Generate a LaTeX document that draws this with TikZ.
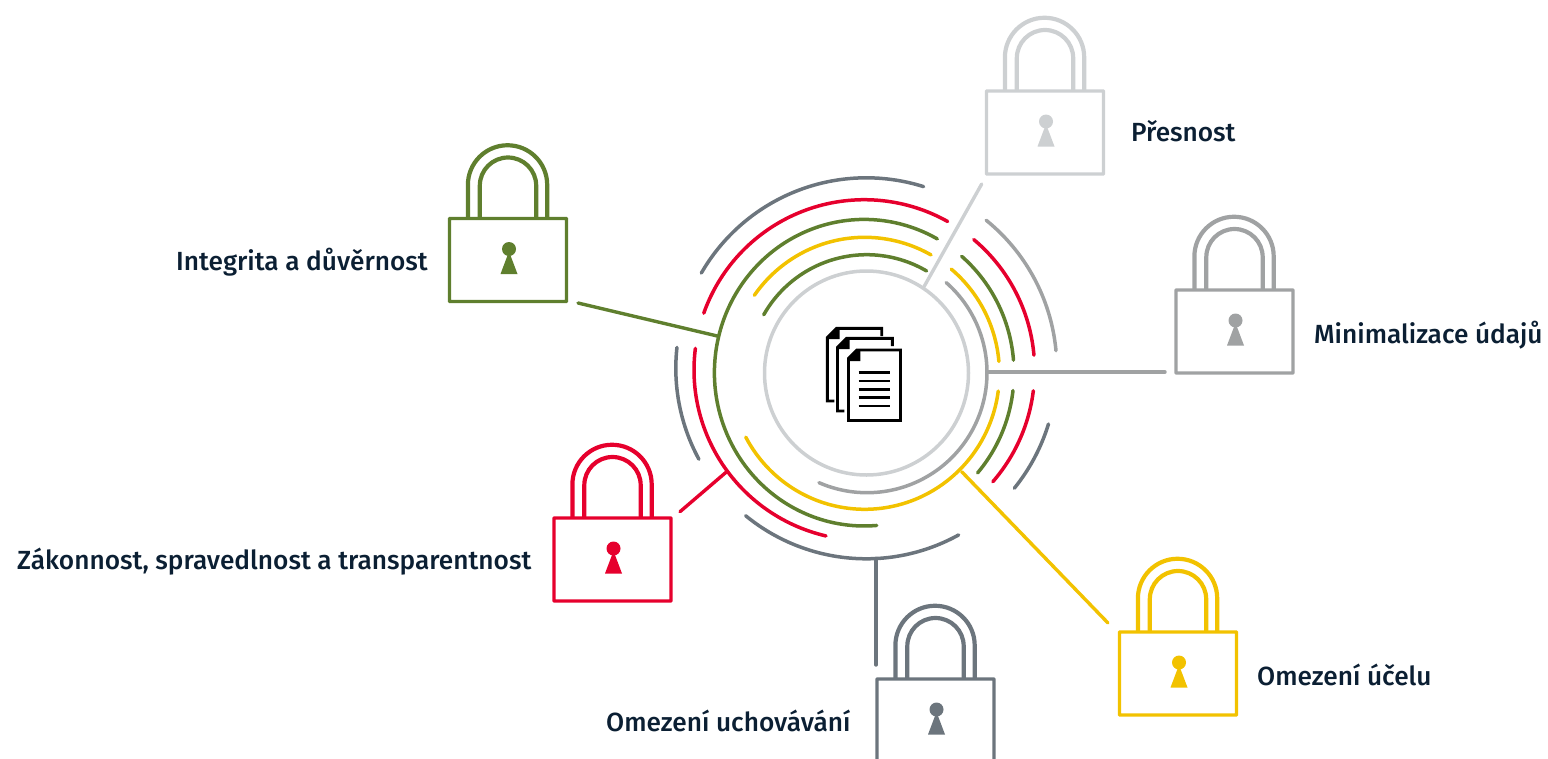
\documentclass[tikz,border=0pt]{standalone}
\usepackage{fontspec}
\setmainfont{Lato}
\newfontfamily\lblfont{Fira Sans Medium}
\definecolor{cgreen}{HTML}{5F7F2E}
\definecolor{cred}{HTML}{E6002D}
\definecolor{cyellow}{HTML}{F2C200}
\definecolor{cdark}{HTML}{6C757D}
\definecolor{cgray}{HTML}{A0A2A3}
\definecolor{clight}{HTML}{CDD0D2}
\definecolor{ctext}{HTML}{0B1F33}
\tikzset{
  ringline/.style={line width=3.5pt,line cap=round,line join=round},
  link/.style={line width=3.4pt,line cap=round},
  lockbody/.style={draw=#1,line width=3.4pt,rectangle,rounded corners=0.6pt,minimum width=117pt,minimum height=83pt,inner sep=0pt},
  lbl/.style={text=ctext,font=\lblfont\fontsize{26.25}{30}\selectfont,inner sep=0pt},
  sheet/.style={line width=2.9pt,line join=miter,black},
  txtline/.style={line width=2.7pt,black}
}
% color, cx, cy, rx, ry, start, end  (image px, angles counter-clockwise)
\newcommand{\ringarc}[7]{\draw[ringline,#1] plot[smooth,domain=#6:#7,samples=70] ({#2+#4*cos(\x)},{#3-#5*sin(\x)});}
% name, color, left, top of body
\newcommand{\padlock}[4]{%
  \node[lockbody=#2,anchor=north west,outer sep=0pt] (#1) at (#3,#4) {};
  \begin{scope}[shift={(#3,#4)}]
    \draw[line width=4.2pt,#2] (18.4,0) -- (18.4,-33.6) arc[start angle=180,end angle=0,radius=39.65pt] -- (97.7,0);
    \draw[line width=4.2pt,#2] (30.3,0) -- (30.3,-32.8) arc[start angle=180,end angle=0,radius=28.2pt] -- (86.7,0);
    \fill[#2] (59.5,30.5) circle (7pt);
    \fill[#2] (59.5,33) -- (68,55.5) -- (51,55.5) -- cycle;
  \end{scope}}
\begin{document}
\begin{tikzpicture}[x=1pt,y=-1pt]
\useasboundingbox (0,0) rectangle (1548,758);
\clip (0,0) rectangle (1548,758);
% inner disc
\node[circle,draw=clight,line width=3.5pt,minimum size=204pt,inner sep=0pt,outer sep=0pt] (hub) at (866.5,373) {};
% rings
\ringarc{cgray}{867}{372.7}{120}{120}{-113.6}{48.7}
\ringarc{cgreen}{866.7}{373}{118.3}{118.3}{59.6}{150.5}
\ringarc{cyellow}{864.7}{373.3}{134.7}{136}{60.5}{145}
\ringarc{cyellow}{864.7}{373.3}{134.7}{136}{5}{50}
\ringarc{cyellow}{864.7}{373.3}{134.7}{136}{-152}{-7.5}
\ringarc{cgreen}{864.2}{372.7}{149.8}{153.3}{60.8}{274.8}
\ringarc{cgreen}{864.2}{372.7}{149.8}{153.3}{4.7}{49.4}
\ringarc{cgreen}{864.2}{372.7}{149.8}{153.3}{-40.8}{-6.7}
\ringarc{cred}{864.3}{370}{170.3}{170.3}{60.7}{160.5}
\ringarc{cred}{864.3}{370}{170.3}{170.3}{5}{50}
\ringarc{cred}{864.3}{370}{170.3}{170.3}{-41}{-7}
\ringarc{cred}{864.3}{370}{170.3}{170.3}{-103}{-187.3}
\ringarc{cdark}{866.3}{368.3}{190.5}{190.5}{72.5}{150}
\ringarc{cdark}{866.3}{368.3}{190.5}{190.5}{173.7}{208.5}
\ringarc{cdark}{866.3}{368.3}{190.5}{190.5}{-39}{-17}
\ringarc{cdark}{866.3}{368.3}{190.5}{190.5}{-61}{-129.3}
\ringarc{cgray}{866.3}{368.3}{190.5}{190.5}{5.3}{51}
% document icon
\draw[sheet] (834.3,401) -| (827.3,337.7) -- (836.7,328.3) -- (881.7,328.3) -- (881.7,336);
\fill[black] (826,338) -- (836.5,327.5) -- (839.5,327.5) -- (839.5,339) -- (826,339) -- cycle;
\draw[sheet] (844.3,411) -| (837.5,347.3) -- (846.7,338.3) -- (892.3,338.3) -- (892.3,346);
\fill[black] (836.2,348) -- (846.5,337.5) -- (849.5,337.5) -- (849.5,349) -- (836.2,349) -- cycle;
\draw[sheet] (848.5,358.5) -- (857,350) -- (900.5,350) -- (900.5,420.5) -- (848.5,420.5) -- cycle;
\fill[black] (847.2,360) -- (857.5,349) -- (860.3,349) -- (860.3,361) -- (847.2,361) -- cycle;
\foreach \yy in {372.7,381,389.3,397.7,406} \draw[txtline] (858.7,\yy) -- (890,\yy);
% locks
\padlock{lockpres}{clight}{986.5}{91}
\padlock{lockmin}{cgray}{1176}{290}
\padlock{lockint}{cgreen}{449.5}{218.5}
\padlock{lockzak}{cred}{554}{518}
\padlock{lockuce}{cyellow}{1119.5}{632}
\padlock{lockuch}{cdark}{877}{679}
% connector ends
\coordinate (cA1) at (924,286.7); \coordinate (cA2) at (981.7,184);
\coordinate (cB1) at (988,372); \coordinate (cB2) at (1165,372);
\coordinate (cC1) at (717.3,336); \coordinate (cC2) at (578,303);
\coordinate (cD1) at (726.7,471.7); \coordinate (cD2) at (680,511.7);
\coordinate (cE1) at (961.7,471.7); \coordinate (cE2) at (1108,623);
\coordinate (cF1) at (876,558.3); \coordinate (cF2) at (876,665);
\draw[link,clight] (cA1) -- (cA2);
\draw[link,cgray] (cB1) -- (cB2);
\draw[link,cgreen] (cC1) -- (cC2);
\draw[link,cred] (cD1) -- (cD2);
\draw[link,cyellow] (cE1) -- (cE2);
\draw[link,cdark] (cF1) -- (cF2);
% labels
\node[lbl,anchor=base west] (tA) at (1131,141) {Přesnost};
\node[lbl,anchor=base west] (tB) at (1314,343) {Minimalizace údajů};
\node[lbl,anchor=base west] (tC) at (176,270) {Integrita a důvěrnost};
\node[lbl,anchor=base west] (tD) at (17,569) {Zákonnost, spravedlnost a transparentnost};
\node[lbl,anchor=base west] (tE) at (1257,685) {Omezení účelu};
\node[lbl,anchor=base west] (tF) at (606,731) {Omezení uchovávání};
\end{tikzpicture}
\end{document}
